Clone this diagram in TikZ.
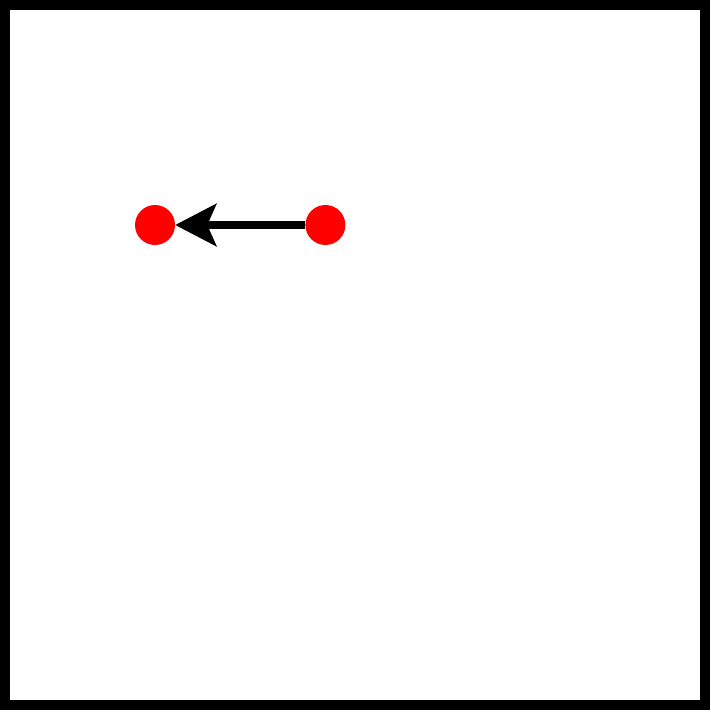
\documentclass[tikz,border=0pt]{standalone}
\usetikzlibrary{arrows.meta,positioning}

\begin{document}
\begin{tikzpicture}[
    x=1pt, y=-1pt,
    dot/.style={circle, fill=red, inner sep=0pt, minimum size=40pt},
    arrow/.style={-{Stealth[length=41pt, width=42pt, inset=9pt]}, line width=8pt}
  ]
    \useasboundingbox (0,0) rectangle (710,720);
    \draw[line width=10pt] (5,5) rectangle (705,705);
    \node[dot] (left) at (155,225) {};
    \node[dot, right=130pt of left] (right) {};
    \draw[arrow] (right) -- (left);
  \end{tikzpicture}
\end{document}
